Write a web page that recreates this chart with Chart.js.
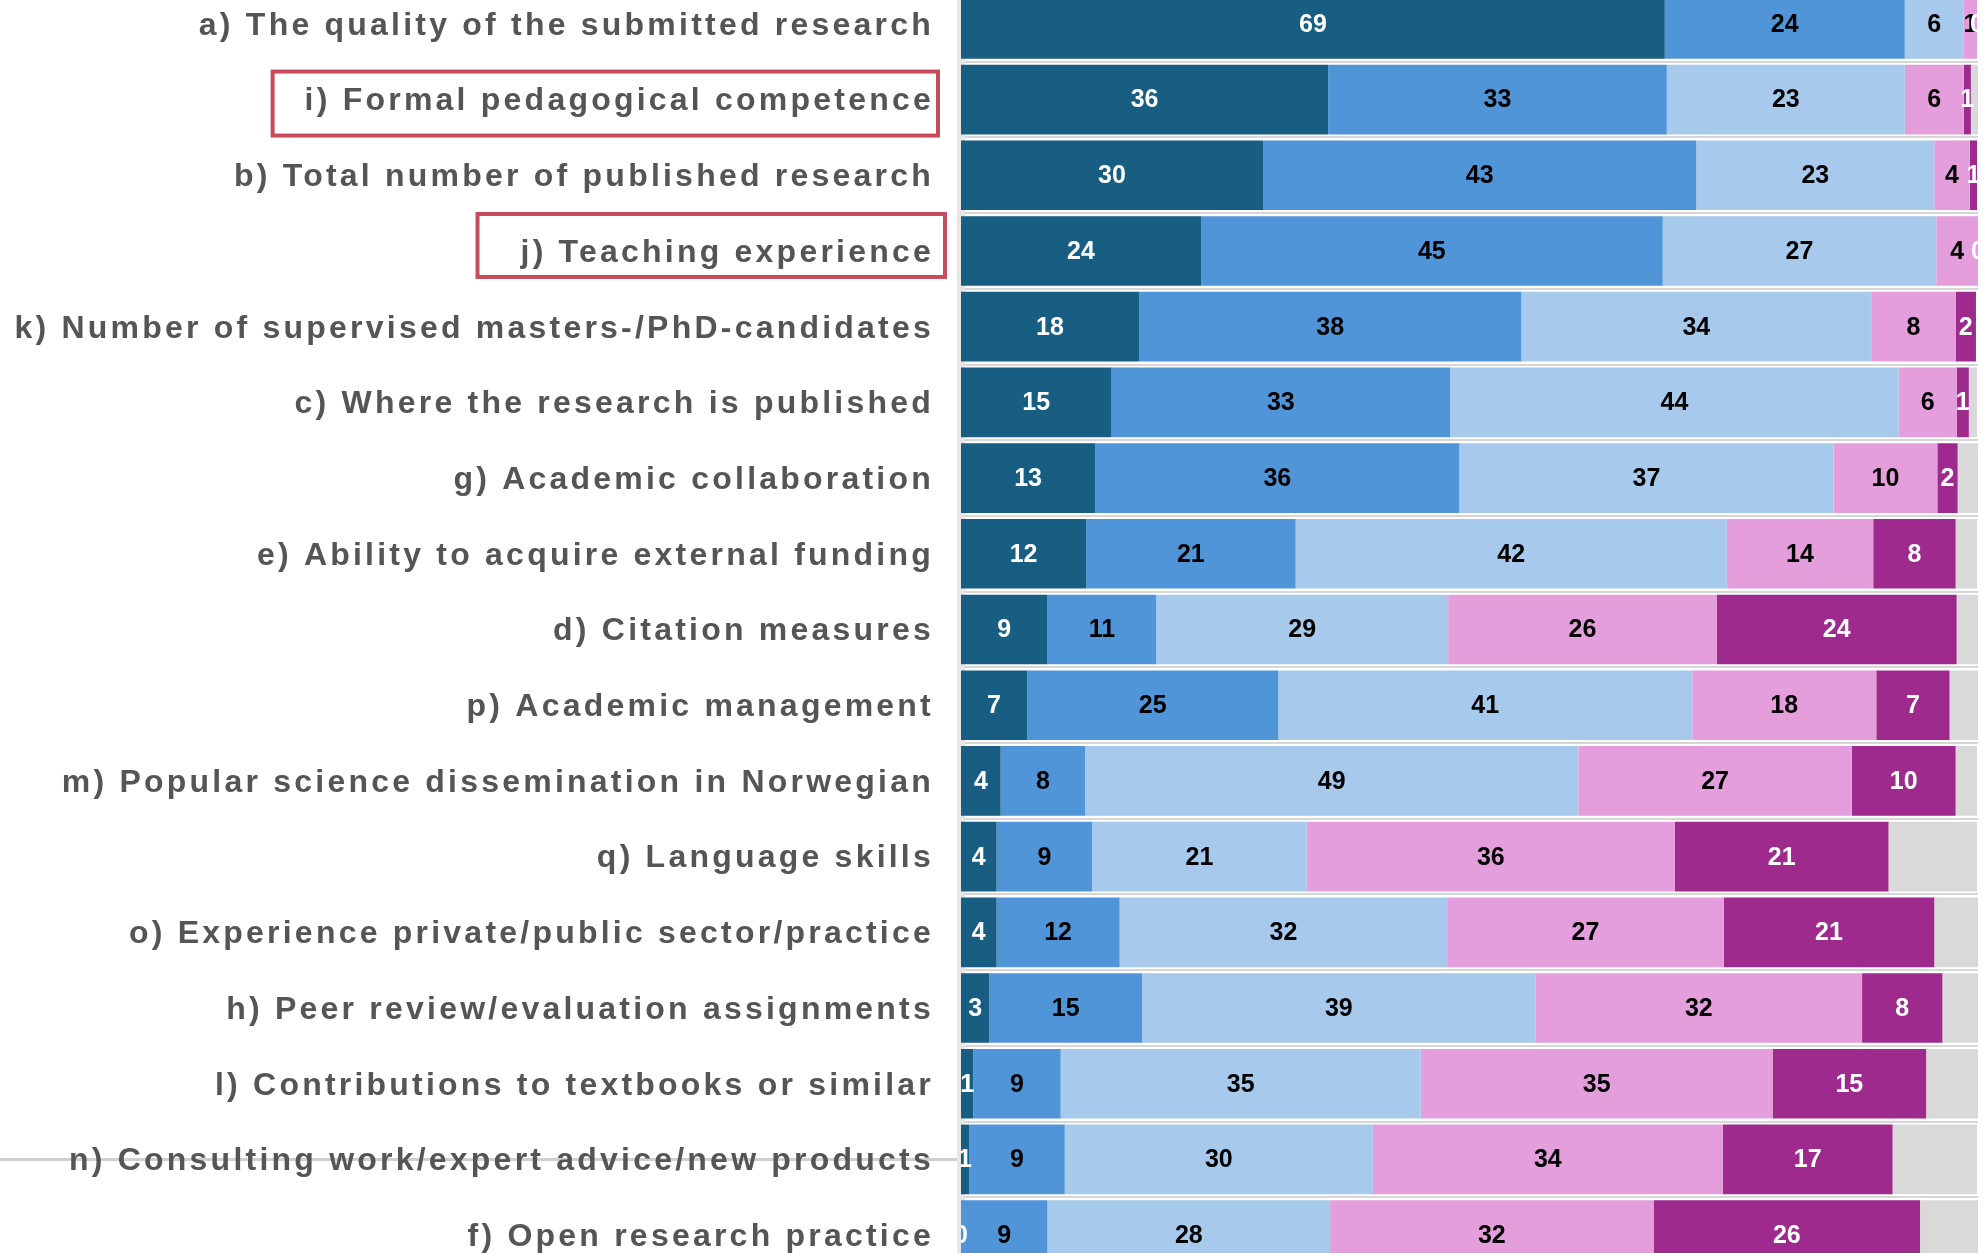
<!DOCTYPE html>
<html>
<head>
<meta charset="utf-8">
<title>Criteria importance</title>
<script src="https://cdn.jsdelivr.net/npm/chart.js@4.4.1/dist/chart.umd.min.js"></script>
<style>
    html, body { margin: 0; padding: 0; background: #ffffff; overflow: hidden; }
    #wrap { position: absolute; left: 0; top: -14px; width: 1987px; height: 1287px; }
</style>
</head>
<body>
<div id="wrap"><canvas id="chart" width="1987" height="1287"></canvas></div>
<script>
// Categories (top to bottom)
const categories = [
    'a) The quality of the submitted research',
    'i) Formal pedagogical competence',
    'b) Total number of published research',
    'j) Teaching experience',
    'k) Number of supervised masters-/PhD-candidates',
    'c) Where the research is published',
    'g) Academic collaboration',
    'e) Ability to acquire external funding',
    'd) Citation measures',
    'p) Academic management',
    'm) Popular science dissemination in Norwegian',
    'q) Language skills',
    'o) Experience private/public sector/practice',
    'h) Peer review/evaluation assignments',
    'l) Contributions to textbooks or similar',
    'n) Consulting work/expert advice/new products',
    'f) Open research practice'
];

// Percent per answer level (segment labels show the rounded value)
const veryImportant = [69.2, 36.1, 29.7, 23.6, 17.5, 14.8, 13.2, 12.3, 8.5, 6.5, 3.9, 3.5, 3.5, 2.8, 1.2, 0.8, 0];
const important     = [23.6, 33.3, 42.6, 45.4, 37.6, 33.3, 35.8, 20.6, 10.7, 24.7, 8.3, 9.4, 12.1, 15.0, 8.6, 9.4, 8.5];
const somewhat      = [5.8, 23.4, 23.4, 26.9, 34.4, 44.1, 36.8, 42.4, 28.7, 40.7, 48.5, 21.1, 32.2, 38.7, 35.4, 30.3, 27.8];
const lessImportant = [1.3, 5.8, 3.5, 4.1, 8.3, 5.7, 10.2, 14.4, 26.4, 18.1, 26.9, 36.2, 27.2, 32.1, 34.6, 34.4, 31.8];
const notImportant  = [0, 0.7, 0.7, 0, 2.0, 1.2, 2.0, 8.1, 23.6, 7.2, 10.2, 21.0, 20.7, 7.9, 15.1, 16.7, 26.2];
const dontKnow      = [0, 0.7, 0, 0, 0, 0.8, 2.0, 2.1, 2.1, 2.9, 2.1, 8.7, 4.3, 3.5, 5.1, 8.3, 5.8];

// Labels marked with a red frame
const highlighted = [
    { index: 1, padLeft: 32, padRight: 7, top: -28, bottom: 36 },
    { index: 3, padLeft: 43, padRight: 14, top: -37, bottom: 26 }
];

const labelFont = '"Liberation Sans", Arial, sans-serif';
const labelSpacing = '3.22px';

// Letter spacing for the category labels + decorations
const decorPlugin = {
    id: 'decor',
    beforeDraw(chart) {
        const { ctx, chartArea, scales } = chart;
        // stray guide line behind one label
        const y = scales.y.getPixelForValue(15);
        ctx.save();
        ctx.strokeStyle = '#cfcfcf';
        ctx.lineWidth = 3;
        ctx.beginPath();
        ctx.moveTo(0, y);
        ctx.lineTo(chartArea.left, y);
        ctx.stroke();
        ctx.restore();
        ctx.letterSpacing = labelSpacing;
    },
    afterDraw(chart) {
        const { ctx, chartArea, scales } = chart;
        const labelX = chartArea.left - scales.y.options.ticks.padding;
        ctx.save();
        ctx.font = 'bold 32px ' + labelFont;
        ctx.letterSpacing = labelSpacing;
        ctx.strokeStyle = '#c84b5b';
        ctx.lineWidth = 4;
        highlighted.forEach(h => {
            const w = ctx.measureText(categories[h.index]).width;
            const y = scales.y.getPixelForValue(h.index);
            const left = labelX - w - h.padLeft;
            const right = labelX - 3 + h.padRight;
            ctx.strokeRect(left, y + h.top, right - left, h.bottom - h.top);
        });
        ctx.restore();
        ctx.letterSpacing = '0px';
    }
};

// Value labels centred in each segment
const segmentLabels = {
    id: 'segmentLabels',
    afterDatasetsDraw(chart) {
        const { ctx, chartArea } = chart;
        ctx.save();
        ctx.letterSpacing = '0px';
        ctx.beginPath();
        ctx.rect(chartArea.left, chartArea.top, chartArea.right - chartArea.left, chartArea.bottom - chartArea.top);
        ctx.clip();
        ctx.font = 'bold 25px ' + labelFont;
        ctx.textAlign = 'center';
        ctx.textBaseline = 'middle';
        chart.data.datasets.forEach((ds, di) => {
            if (!ds.labelColor) return;
            const meta = chart.getDatasetMeta(di);
            meta.data.forEach((bar, i) => {
                ctx.fillStyle = ds.labelColor;
                ctx.fillText(String(Math.round(ds.data[i])), (bar.x + bar.base) / 2, bar.y + 1);
            });
        });
        ctx.restore();
    }
};

const ctx = document.getElementById('chart').getContext('2d');
new Chart(ctx, {
    type: 'bar',
    data: {
        labels: categories,
        datasets: [
            { label: 'Very important', data: veryImportant, backgroundColor: '#185e82', labelColor: '#ffffff' },
            { label: 'Important', data: important, backgroundColor: '#4f95d8', labelColor: '#000000' },
            { label: 'Somewhat important', data: somewhat, backgroundColor: '#a7c9eb', labelColor: '#000000' },
            { label: 'Less important', data: lessImportant, backgroundColor: '#e49edb', labelColor: '#000000' },
            { label: 'Not important', data: notImportant, backgroundColor: '#9e2a8e', labelColor: '#ffffff' },
            { label: "Don't know", data: dontKnow, backgroundColor: '#d9d9d9' }
        ]
    },
    options: {
        indexAxis: 'y',
        responsive: false,
        animation: false,
        layout: { padding: { left: 0, right: 9, top: 0, bottom: 0 } },
        datasets: {
            bar: { categoryPercentage: 1, barPercentage: 0.92, borderWidth: 0 }
        },
        plugins: {
            legend: { display: false },
            tooltip: { enabled: false }
        },
        scales: {
            x: {
                display: false,
                stacked: true,
                min: 0,
                max: 100
            },
            y: {
                stacked: true,
                afterFit: function(scale) {
                    scale.width = 961;
                    scale.paddingTop = 0;
                    scale.paddingBottom = 0;
                    scale.paddingLeft = 0;
                    scale.paddingRight = 0;
                },
                grid: {
                    offset: true,
                    drawTicks: false,
                    color: '#d6d6d6',
                    lineWidth: 2
                },
                border: { display: true, color: '#e6e6e6', width: 8 },
                ticks: {
                    autoSkip: false,
                    padding: 27,
                    labelOffset: 2,
                    color: '#555555',
                    font: { family: labelFont, size: 32, weight: 'bold' }
                }
            }
        }
    },
    plugins: [decorPlugin, segmentLabels]
});
</script>
</body>
</html>
